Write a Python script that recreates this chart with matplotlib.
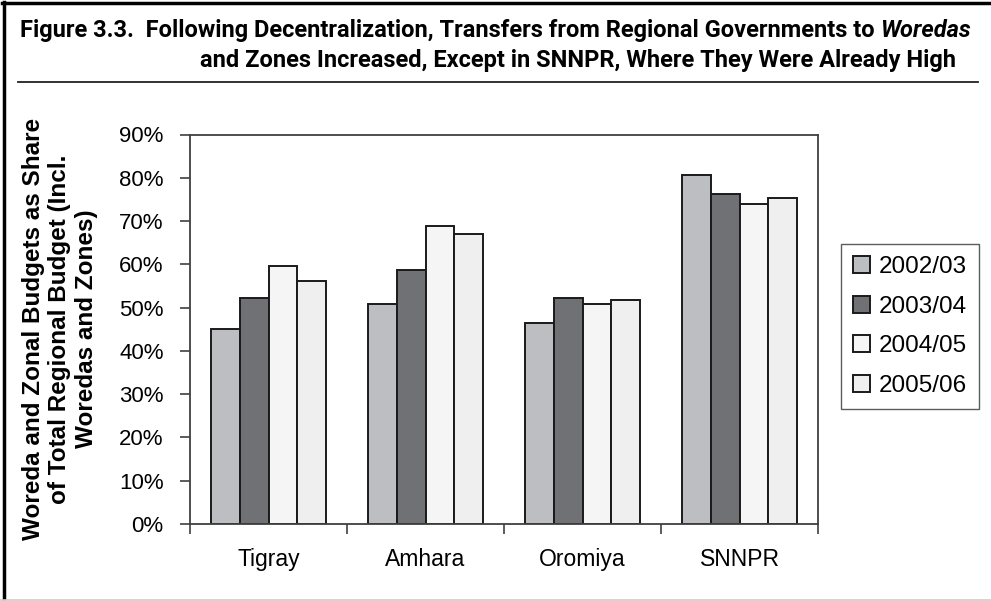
import numpy as np
import matplotlib
matplotlib.use('Agg')
import matplotlib.pyplot as plt
from matplotlib.lines import Line2D

# 数据
regions = ['Tigray', 'Amhara', 'Oromiya', 'SNNPR']
years = ['2002/03', '2003/04', '2004/05', '2005/06']
v_0203 = [45.0, 50.8, 46.4, 80.6]
v_0304 = [52.3, 58.7, 52.2, 76.2]
v_0405 = [59.7, 68.9, 50.8, 73.9]
v_0506 = [56.2, 67.0, 51.8, 75.3]
yticks = [0, 10, 20, 30, 40, 50, 60, 70, 80, 90]

series = [v_0203, v_0304, v_0405, v_0506]
colors = ['#bdbec2', '#707175', '#f5f5f5', '#efefef']

plt.rcParams['font.family'] = ['Liberation Sans', 'DejaVu Sans']
W, H = 991, 601
fig = plt.figure(figsize=(W / 100, H / 100), dpi=100)

ax = fig.add_axes([190 / W, 1 - 524 / H, 628 / W, 389.5 / H])
x = np.arange(len(regions))
bw = 0.183
for i, vals in enumerate(series):
    ax.bar(x + (i - 1.5) * bw, vals, width=bw, color=colors[i],
           edgecolor='#1a1a1a', linewidth=1.4, label=years[i])

ax.set_xlim(-0.5, 3.5)
ax.set_ylim(0, 90)
ax.set_yticks(yticks)
ax.set_yticklabels([f'{t}%' for t in yticks])
ax.set_xticks(x)
ax.set_xticklabels(regions)
ax.set_xticks([-0.5, 0.5, 1.5, 2.5, 3.5], minor=True)
ax.tick_params(axis='x', which='major', length=0, pad=17, labelsize=16.5)
ax.tick_params(axis='x', which='minor', length=7, width=1.2, color='#404040')
ax.tick_params(axis='y', length=7, width=1.2, color='#404040', pad=12, labelsize=16)
for s in ax.spines.values():
    s.set_color('#404040')
    s.set_linewidth(1.3)

leg = ax.legend(loc='upper left', bbox_to_anchor=(841 / W, 1 - 244 / H),
                bbox_transform=fig.transFigure, fontsize=17.5, frameon=True,
                fancybox=False, edgecolor='#333333', handlelength=0.7,
                handleheight=0.7, handletextpad=0.35, labelspacing=0.72,
                borderpad=0.5, borderaxespad=0)
leg.get_frame().set_linewidth(1.0)

# y轴标题
fig.text(60 / W, 1 - 329 / H,
         'Woreda and Zonal Budgets as Share\nof Total Regional Budget (Incl.\nWoredas and Zones)',
         rotation=90, ha='center', va='center', multialignment='center',
         fontsize=17.5, fontweight='bold', linespacing=1.22)

# 标题 (没有窄体字, 用Roboto再按宽度缩放)
tfont = ['Roboto', 'DejaVu Sans']
tsize = 14.5
t1 = fig.text(20 / W, 1 - 37 / H,
              'Figure 3.3.  Following Decentralization, Transfers from Regional Governments to ',
              ha='left', va='baseline', fontsize=tsize, fontweight='bold', family=tfont)
t1b = fig.text(0, 1 - 37 / H, 'Woredas', ha='left', va='baseline', fontsize=tsize,
               fontweight='bold', style='italic', family=tfont)
r = fig.canvas.get_renderer()
full = t1.get_window_extent(r).width + t1b.get_window_extent(r).width
tsize = tsize * 950 / full
t1.set_fontsize(tsize)
t1b.set_fontsize(tsize)
t1b.set_x(t1.get_window_extent(r).x1 / W)
fig.text(578 / W, 1 - 67 / H,
         'and Zones Increased, Except in SNNPR, Where They Were Already High',
         ha='center', va='baseline', fontsize=tsize, fontweight='bold', family=tfont)

# 外框
fig.add_artist(Line2D([2 / W, 1], [1 - 2.5 / H, 1 - 2.5 / H], color='black', lw=2.5,
                      transform=fig.transFigure))
fig.add_artist(Line2D([3.5 / W, 3.5 / W], [1 - 1.5 / H, 1 - 598 / H], color='black', lw=2.5,
                      transform=fig.transFigure))
fig.add_artist(Line2D([0, 1], [1 - 600 / H, 1 - 600 / H], color='#cccccc', lw=1.2,
                      transform=fig.transFigure))
fig.add_artist(Line2D([18 / W, 978 / W], [1 - 82 / H, 1 - 82 / H], color='#222222', lw=1.3,
                      transform=fig.transFigure))

fig.savefig('out.png', dpi=100)
